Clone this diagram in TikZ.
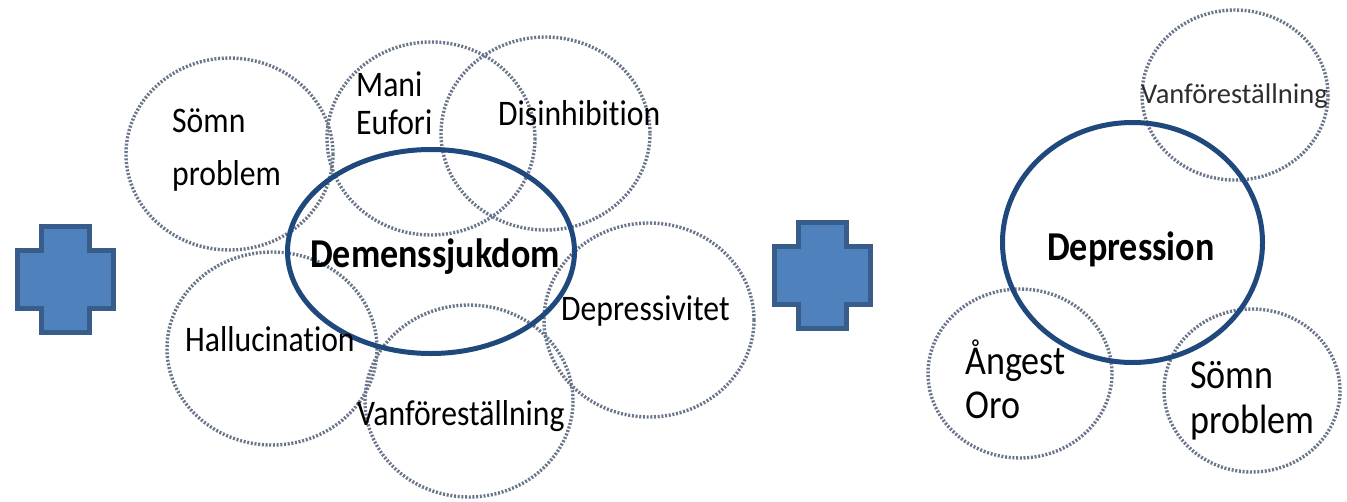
\documentclass[tikz,border=0pt]{standalone}
\usepackage{fontspec}
\setmainfont{Carlito}[FakeStretch=0.88, Ligatures={TeX,NoCommon}]
\newfontfamily\widefont{Carlito}[Ligatures={TeX,NoCommon}]
\begin{document}
\begin{tikzpicture}[x=1pt,y=-1pt,
  dotring/.style={draw={rgb,255:red,105;green,117;blue,138}, line width=3.4pt,
    dash pattern=on 2pt off 1.7pt},
  mainring/.style={draw={rgb,255:red,31;green,73;blue,125}, line width=5pt},
  lbl/.style={anchor=base west, inner sep=0pt, font=\fontsize{36}{40}\selectfont},
  biglbl/.style={anchor=base west, inner sep=0pt, font=\fontsize{41}{46}\selectfont},
  boldlbl/.style={anchor=base west, inner sep=0pt, font=\fontsize{41}{46}\selectfont\bfseries},
  crossmark/.pic={
    \draw[fill={rgb,255:red,79;green,129;blue,189}, draw={rgb,255:red,56;green,93;blue,138},
      line width=5pt, miter limit=10]
      (-24,-53) -- (24,-53) -- (24,-29) -- (48,-29) -- (48,29) -- (24,29)
      -- (24,53) -- (-24,53) -- (-24,29) -- (-48,29) -- (-48,-29) -- (-24,-29) -- cycle;
  }]
\useasboundingbox (0,0) rectangle (1347,501);

% symptom rings around the dementia core
\draw[dotring] (229.5,154) ellipse [x radius=103.5, y radius=96];
\draw[dotring] (431,138.5) ellipse [x radius=104, y radius=96.5];
\draw[dotring] (545.5,133.5) ellipse [x radius=104.5, y radius=96.5];
\draw[dotring] (272,348.5) ellipse [x radius=105, y radius=96.5];
\draw[dotring] (469,401) ellipse [x radius=104, y radius=96];
\draw[dotring] (649,320) ellipse [x radius=105, y radius=97];
\draw[mainring] (431,251.5) ellipse [x radius=143.5, y radius=102];

% symptom rings around depression
\draw[dotring] (1235,95) ellipse [x radius=93, y radius=85];
\draw[dotring] (1020,373.5) ellipse [x radius=92, y radius=84.5];
\draw[dotring] (1252,390.5) ellipse [x radius=88, y radius=81.5];
\draw[mainring] (1132.5,242.5) ellipse [x radius=130, y radius=120];

% plus signs
\pic at (65.5,279.5) {crossmark};
\pic at (822.5,275.5) {crossmark};

% labels, left group
\node[lbl] (somn1) at (172,132) {Sömn};
\node[lbl] (somn2) at (172,185) {problem};
\node[lbl] (mani1) at (356,96) {Mani};
\node[lbl] (mani2) at (356,134) {Eufori};
\node[lbl] (disinh) at (498,125) {Disinhibition};
\node[boldlbl] (demens) at (310,267) {Demenssjukdom};
\node[lbl] (halluc) at (185,351) {Hallucination};
\node[lbl] (deprv) at (561,320) {Depressivitet};
\node[lbl] (vanf1) at (357,425) {Vanföreställning};

% labels, right group
\node[boldlbl] (depr) at (1047,260) {Depression};
\node[anchor=base west, inner sep=0pt, text={rgb,255:red,45;green,45;blue,45},
  font=\widefont\fontsize{28.5}{32}\selectfont] (vanf2) at (1141,103) {Vanföreställning};
\node[biglbl] (angest1) at (965,374) {Ångest};
\node[biglbl] (angest2) at (965,418) {Oro};
\node[biglbl] (somnr1) at (1190,388) {Sömn};
\node[biglbl] (somnr2) at (1190,433) {problem};
\end{tikzpicture}
\end{document}
